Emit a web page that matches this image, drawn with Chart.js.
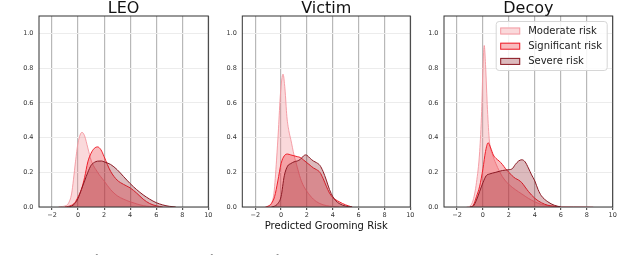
<!DOCTYPE html>
<html>
<head>
<meta charset="utf-8">
<script src="https://cdn.jsdelivr.net/npm/chart.js@4.4.1/dist/chart.umd.min.js"></script>
<style>
  html, body { margin: 0; padding: 0; background: #fff; }
  #wrap { position: relative; width: 640px; height: 255px; overflow: hidden; }
  canvas { position: absolute; top: 0; }
  #cap { position: absolute; left: 0; top: 253px; font: 11px "Liberation Serif"; line-height: 11px; white-space: nowrap; color: #222; }
</style>
</head>
<body>
<div id="wrap">
  <canvas id="leo" width="216" height="255" style="left:0px"></canvas>
  <canvas id="victim" width="206" height="255" style="left:216px"></canvas>
  <canvas id="decoy" width="218" height="255" style="left:422px"></canvas>
  <div id="cap"><b>Fig. 3:</b> Distribution of predicted grooming risk for each type of conversation, split by annotated risk level.</div>
</div>
<script>
// --- data (x = predicted grooming risk, y = density) ---
const seriesNames = ['Moderate risk', 'Significant risk', 'Severe risk'];
const xTicks = [-2, 0, 2, 4, 6, 8, 10];
const yTicks = [0, 0.2, 0.4, 0.6, 0.8, 1.0];

const leoModerate = [[-1.5,0],[-1.2,0.003],[-1,0.006],[-0.75,0.02],[-0.5,0.075],[-0.35,0.16],[-0.2,0.26],[0,0.37],[0.3,0.43],[0.5,0.41],[0.75,0.34],[1,0.27],[1.5,0.2],[2,0.15],[2.5,0.1],[3,0.065],[3.5,0.045],[4,0.03],[4.5,0.018],[5,0.008],[5.5,0.003],[6,0]];
const leoSignificant = [[-1,0],[-0.5,0.01],[-0.25,0.025],[0,0.058],[0.25,0.1],[0.5,0.17],[0.75,0.26],[1,0.31],[1.25,0.338],[1.5,0.346],[1.75,0.33],[2,0.29],[2.25,0.245],[2.5,0.205],[3,0.155],[3.5,0.13],[4,0.11],[4.5,0.08],[5,0.045],[5.5,0.02],[6,0.007],[6.5,0]];
const leoSevere = [[-0.75,0],[-0.5,0.005],[-0.25,0.02],[0,0.05],[0.25,0.1],[0.5,0.15],[0.75,0.2],[1,0.24],[1.25,0.257],[1.5,0.264],[1.8,0.265],[2,0.26],[2.5,0.245],[3,0.215],[3.5,0.175],[4,0.135],[4.5,0.1],[5,0.07],[5.5,0.045],[6,0.025],[6.5,0.012],[7,0.004],[7.5,0]];

const victimModerate = [[-1.2,0],[-1,0.003],[-0.75,0.02],[-0.55,0.08],[-0.35,0.27],[-0.2,0.45],[-0.05,0.65],[0.15,0.765],[0.3,0.68],[0.45,0.52],[0.6,0.44],[0.75,0.39],[1,0.3],[1.25,0.23],[1.5,0.165],[1.75,0.12],[2,0.09],[2.5,0.045],[3,0.02],[3.5,0.008],[4,0.003],[4.5,0]];
const victimSignificant = [[-1.2,0],[-1,0.005],[-0.75,0.02],[-0.5,0.06],[-0.25,0.15],[0,0.25],[0.25,0.295],[0.5,0.305],[0.75,0.3],[1,0.295],[1.25,0.29],[1.5,0.285],[1.75,0.27],[2,0.255],[2.25,0.24],[2.5,0.225],[2.75,0.215],[3,0.2],[3.25,0.165],[3.5,0.12],[3.75,0.08],[4,0.055],[4.5,0.03],[5,0.012],[5.5,0]];
const victimSevere = [[-0.75,0],[-0.5,0.005],[-0.25,0.02],[0,0.06],[0.25,0.18],[0.5,0.235],[0.75,0.25],[1,0.26],[1.25,0.265],[1.5,0.275],[1.75,0.295],[1.9,0.3],[2,0.298],[2.25,0.28],[2.5,0.265],[2.75,0.255],[3,0.24],[3.25,0.205],[3.5,0.155],[3.75,0.1],[4,0.06],[4.25,0.035],[4.5,0.02],[5,0.005],[5.5,0]];

const decoyModerate = [[-1.25,0],[-1,0.005],[-0.75,0.04],[-0.5,0.14],[-0.25,0.32],[-0.1,0.55],[0,0.8],[0.1,0.93],[0.2,0.82],[0.35,0.56],[0.5,0.38],[0.75,0.3],[1,0.25],[1.5,0.175],[2,0.13],[2.5,0.1],[3,0.075],[3.5,0.05],[4,0.03],[4.5,0.015],[5,0.008],[6,0.003],[7,0.002],[8,0.001],[8.5,0]];
const decoySignificant = [[-1,0],[-0.75,0.01],[-0.5,0.06],[-0.25,0.12],[0,0.22],[0.2,0.32],[0.4,0.37],[0.6,0.34],[0.8,0.3],[1,0.28],[1.25,0.265],[1.5,0.245],[1.75,0.22],[2,0.2],[2.25,0.18],[2.5,0.165],[2.75,0.155],[3,0.14],[3.25,0.115],[3.5,0.09],[4,0.05],[4.5,0.025],[5,0.01],[5.5,0.004],[6,0]];
const decoySevere = [[-1,0],[-0.75,0.005],[-0.5,0.04],[-0.25,0.09],[0,0.14],[0.25,0.18],[0.5,0.19],[1,0.2],[1.5,0.21],[2,0.215],[2.25,0.22],[2.5,0.245],[2.75,0.265],[3,0.272],[3.25,0.26],[3.5,0.225],[3.75,0.185],[4,0.15],[4.25,0.1],[4.5,0.065],[5,0.03],[5.5,0.01],[6,0]];

// --- styles ---
const lineColors = ['rgba(244,150,158,0.9)', '#ee1f2a', '#8b1a24'];
const fillColors = ['rgba(240,130,135,0.3)', 'rgba(235,30,40,0.3)', 'rgba(140,25,35,0.3)'];
const FONT = '"DejaVu Sans"';

const fmt = v => (v < 0 ? '\u2212' + Math.abs(v) : String(v));

// frame, title, x label and legend drawn over each panel
const panelPlugin = {
  id: 'panel',
  afterDraw(chart, args, o) {
    const { ctx, chartArea: a } = chart;
    ctx.save();
    ctx.strokeStyle = '#333';
    ctx.lineWidth = 1;
    ctx.strokeRect(a.left, a.top, a.right - a.left, a.bottom - a.top);

    ctx.fillStyle = '#111';
    ctx.textAlign = 'center';
    ctx.textBaseline = 'alphabetic';
    ctx.font = '16px ' + FONT;
    ctx.fillText(o.title, (a.left + a.right) / 2, 13);
    if (o.xlabel) {
      ctx.font = '10px ' + FONT;
      ctx.fillText(o.xlabel, (a.left + a.right) / 2, 228.5);
    }

    if (o.legend) {
      const bw = 111, bh = 49;
      const bx = a.right - 5.5 - bw, by = a.top + 5.5;
      ctx.beginPath();
      ctx.roundRect(bx, by, bw, bh, 3);
      ctx.fillStyle = 'rgba(255,255,255,0.85)';
      ctx.fill();
      ctx.strokeStyle = '#d6d6d6';
      ctx.stroke();
      ctx.font = '10px ' + FONT;
      ctx.textAlign = 'left';
      ctx.textBaseline = 'middle';
      chart.data.datasets.forEach((ds, i) => {
        const cy = by + 9.5 + i * 15.2;
        ctx.fillStyle = '#fff';
        ctx.fillRect(bx + 4, cy - 3.5, 20, 7);
        ctx.fillStyle = ds.backgroundColor;
        ctx.fillRect(bx + 4, cy - 3.5, 20, 7);
        ctx.strokeStyle = ds.borderColor;
        ctx.strokeRect(bx + 4.5, cy - 3, 19, 6);
        ctx.fillStyle = '#222';
        ctx.fillText(ds.label, bx + 32, cy + 0.5);
      });
    }
    ctx.restore();
  }
};

function makePanel(id, title, series, yWidth, padRight, extra) {
  return new Chart(document.getElementById(id), {
    type: 'line',
    data: {
      datasets: series.map((d, i) => ({
        label: seriesNames[i],
        data: d.map(([x, y]) => ({ x, y })),
        borderColor: lineColors[i],
        backgroundColor: fillColors[i],
        borderWidth: 1,
        pointRadius: 0,
        fill: 'origin',
        cubicInterpolationMode: 'monotone',
        order: 3 - i
      }))
    },
    options: {
      responsive: false,
      animation: false,
      layout: { padding: { top: 16, bottom: 34, left: 0, right: padRight } },
      plugins: {
        legend: { display: false },
        tooltip: { enabled: false },
        panel: Object.assign({ title }, extra)
      },
      scales: {
        x: {
          type: 'linear', min: -3, max: 10,
          afterBuildTicks: s => { s.ticks = xTicks.map(v => ({ value: v })); },
          afterFit: s => { s.height = 14; s.paddingLeft = 0; s.paddingRight = 0; },
          border: { display: false },
          grid: { color: '#b8b8b8', lineWidth: 1.2, tickLength: 3, tickColor: '#555' },
          ticks: { font: { family: 'DejaVu Sans', size: 6.5 }, color: '#333', padding: 1.5, maxRotation: 0, autoSkip: false, callback: fmt }
        },
        y: {
          min: 0, max: 1.1,
          afterBuildTicks: s => { s.ticks = yTicks.map(v => ({ value: v })); },
          afterFit: s => { s.width = yWidth; s.paddingTop = 0; s.paddingBottom = 0; },
          border: { display: false },
          grid: { color: '#ececec', drawTicks: false },
          ticks: { font: { family: 'DejaVu Sans', size: 6.5 }, color: '#333', padding: 5.5, callback: v => v.toFixed(1) }
        }
      }
    },
    plugins: [panelPlugin]
  });
}

makePanel('leo', 'LEO', [leoModerate, leoSignificant, leoSevere], 39, 7.7, {});
makePanel('victim', 'Victim', [victimModerate, victimSignificant, victimSevere], 26.3, 11.7, { xlabel: 'Predicted Grooming Risk' });
makePanel('decoy', 'Decoy', [decoyModerate, decoySignificant, decoySevere], 22, 27.3, { legend: true });
</script>
</body>
</html>
